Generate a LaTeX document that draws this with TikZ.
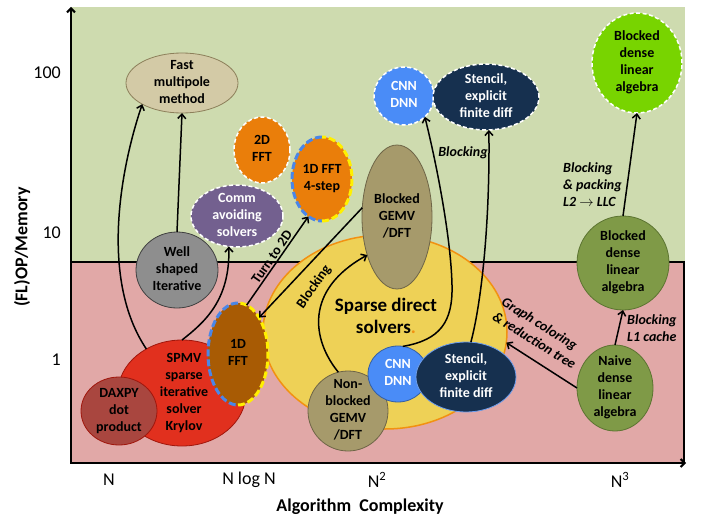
\documentclass[tikz,border=0pt]{standalone}
\usepackage{fontspec}
\setmainfont{Carlito}
\usetikzlibrary{shapes.geometric,arrows.meta}
\definecolor{bggreen}{HTML}{CEDBAF}
\definecolor{bgpink}{HTML}{E1A8A7}
\definecolor{fmfill}{HTML}{D3CAA6}
\definecolor{fmdraw}{HTML}{8C7F5A}
\definecolor{orangef}{HTML}{EA7E0A}
\definecolor{purplef}{HTML}{73608F}
\definecolor{grayf}{HTML}{8E8E8E}
\definecolor{cnnblue}{HTML}{4A8CF7}
\definecolor{navyf}{HTML}{16304F}
\definecolor{brightgreen}{HTML}{78D400}
\definecolor{tanf}{HTML}{A69A6B}
\definecolor{tandraw}{HTML}{6E6547}
\definecolor{sparsey}{HTML}{EED156}
\definecolor{sparseo}{HTML}{F29111}
\definecolor{brownf}{HTML}{A85B04}
\definecolor{redf}{HTML}{E1301E}
\definecolor{reddraw}{HTML}{A0160C}
\definecolor{daxf}{HTML}{A9463F}
\definecolor{olivef}{HTML}{7F9A47}
\definecolor{olivedraw}{HTML}{5C7431}
\definecolor{fftblue}{HTML}{4A86E8}
\definecolor{fftyellow}{HTML}{FFF000}
\newcommand\btxt[1]{\smash{\raisebox{-0.25em}{\makebox[0pt]{\begin{tabular}{@{}c@{}}#1\end{tabular}}}}}
\tikzset{
  bub/.style={ellipse, inner sep=0pt, outer sep=0pt, font=\bfseries\fontsize{14}{17}\selectfont},
  wdash/.style={draw=white, line width=1.5pt, dash pattern=on 4pt off 2.5pt},
  thinb/.style={line width=0.8pt},
  conn/.style={line width=1.5pt, -{Straight Barb[length=4.5pt,width=8pt]}},
  ilab/.style={font=\bfseries\itshape\fontsize{14}{17}\selectfont, align=left, inner sep=0pt},
  blab/.style={font=\bfseries\fontsize{14}{17}\selectfont, inner sep=1.5pt},
  tick/.style={font=\fontsize{18}{21}\selectfont, inner sep=0pt},
  axis/.style={line width=2pt, -{Straight Barb[length=4pt,width=8pt]}},
  bluehalf/.style={draw=fftblue, line width=3pt, dash pattern=on 7pt off 3pt},
  yellowhalf/.style={draw=fftyellow, line width=3pt, dash pattern=on 7pt off 3pt}
}
\begin{document}
\begin{tikzpicture}[x=1pt, y=-1pt]
\useasboundingbox (0,0) rectangle (704,519);
% backgrounds
\fill[bggreen] (71,7) rectangle (685,262);
\filldraw[fill=bgpink, draw=black, line width=1.2pt] (71,262) rectangle (684,463);
% axes
\coordinate (origin) at (71,463);
\coordinate (ytop) at (71,7);
\coordinate (xend) at (686,463);
\draw[axis] (origin) -- (ytop);
\draw[axis] (origin) -- (xend);
% axis labels
\node[tick, anchor=east] (t100) at (61,73) {100};
\node[tick, anchor=east] (t10) at (61,233) {10};
\node[tick, anchor=east] (t1) at (61,360) {1};
\node[font=\bfseries\fontsize{18}{21}\selectfont, rotate=90, inner sep=0pt] (ylbl) at (22,247) {(FL)OP/Memory};
\node[tick] (xN) at (109,480) {N};
\node[tick] (xNlogN) at (249,480) {N log N};
\node[tick] (xN2) at (377,480) {N\textsuperscript{2}};
\node[tick] (xN3) at (620,480) {N\textsuperscript{3}};
\node[font=\bfseries\fontsize{18}{21}\selectfont, inner sep=0pt] (xlbl) at (360,507) {Algorithm\ \ Complexity};
% upper (green) nodes
\node[bub, fill=fmfill, draw=fmdraw, thinb, minimum width=112pt, minimum height=60pt] (fm) at (182,83) {\btxt{Fast\\multipole\\method}};
\node[bub, fill=orangef, wdash, minimum width=56pt, minimum height=66pt] (f2d) at (262,150) {\btxt{2D\\FFT}};
\node[bub, fill=orangef, minimum width=60pt, minimum height=84pt] (f4) at (322,179) {\btxt{1D FFT\\4-step}};
\draw[bluehalf] (f4.north) arc[start angle=90, end angle=270, x radius=30pt, y radius=42pt];
\draw[yellowhalf] (f4.south) arc[start angle=270, end angle=450, x radius=30pt, y radius=42pt];
\node[bub, fill=purplef, wdash, text=white, minimum width=92pt, minimum height=62pt] (comm) at (237,216) {\btxt{Comm\\avoiding\\solvers}};
\node[bub, fill=grayf, draw=black!75, thinb, minimum width=82pt, minimum height=76pt] (ws) at (177,270) {\btxt{Well\\shaped\\Iterative}};
\node[bub, fill=cnnblue, wdash, text=white, minimum width=60pt, minimum height=58pt] (cnn1) at (404,96) {\btxt{CNN\\DNN}};
\node[bub, fill=navyf, wdash, text=white, minimum width=106pt, minimum height=66pt] (st1) at (486,97) {\btxt{Stencil,\\explicit\\finite diff}};
\node[bub, fill=brightgreen, wdash, minimum width=90pt, minimum height=100pt] (bdt) at (637,63) {\btxt{Blocked\\dense\\linear\\algebra}};
% sparse direct solvers
\node[bub, fill=sparsey, draw=sparseo, line width=1.5pt, minimum width=244pt, minimum height=194pt] (sp) at (385,332) {};
\node[bub, fill=tanf, draw=tandraw, thinb, minimum width=70pt, minimum height=144pt] (gemv) at (397,217) {\btxt{Blocked\\GEMV\\/DFT}};
\node[font=\bfseries\fontsize{19}{22}\selectfont, align=center, inner sep=0pt] (sptxt) at (386,316) {Sparse direct\\solvers\textcolor{sparseo}{.}};
\node[bub, fill=tanf, draw=tandraw, thinb, minimum width=80pt, minimum height=80pt] (ngemv) at (348,411) {\btxt{Non-\\blocked\\GEMV\\/DFT}};
\node[bub, fill=cnnblue, draw=fftblue!70!black, thinb, text=white, minimum width=60pt, minimum height=56pt] (cnn2) at (398,374) {\btxt{CNN\\DNN}};
\node[bub, fill=navyf, draw=fftblue!80!white, thinb, text=white, minimum width=100pt, minimum height=70pt] (st2) at (466,377) {\btxt{Stencil,\\explicit\\finite diff}};
% lower left nodes
\node[bub, fill=redf, draw=reddraw, thinb, minimum width=128pt, minimum height=106pt] (spmv) at (182,393) {\btxt{\hspace*{4pt}SPMV\\\hspace*{4pt}sparse\\\hspace*{4pt}iterative\\\hspace*{4pt}solver\\\hspace*{4pt}Krylov}};
\node[bub, fill=daxf, draw=reddraw, thinb, minimum width=76pt, minimum height=68pt] (daxpy) at (119,411) {\btxt{DAXPY\\dot\\product}};
\node[bub, fill=brownf, minimum width=60pt, minimum height=102pt] (fft1) at (238,354) {\btxt{1D\\FFT}};
\draw[bluehalf] (fft1.north) arc[start angle=90, end angle=270, x radius=30pt, y radius=51pt];
\draw[yellowhalf] (fft1.south) arc[start angle=270, end angle=450, x radius=30pt, y radius=51pt];
% right nodes
\node[bub, fill=olivef, draw=olivedraw, thinb, minimum width=92pt, minimum height=94pt] (bd) at (623,263) {\btxt{Blocked\\dense\\linear\\algebra}};
\node[bub, fill=olivef, draw=olivedraw, thinb, minimum width=76pt, minimum height=86pt] (nd) at (615,388) {\btxt{Naive\\dense\\linear\\algebra}};
% connectors
\draw[conn] (spmv.129) .. controls (100,280) and (120,170) .. (fm.208);
\draw[conn] (ws.north) -- (fm.south);
\draw[conn] (spmv.north) .. controls (205,322) and (230,300) .. (comm.255);
\draw[conn] (fft1.80) -- node[blab, sloped, above] (turnlbl) {Turn to 2D} (f4.250);
\draw[conn] (gemv.165) -- (fft1.60);
\draw[conn] (ngemv.104) .. controls (312,340) and (304,290) .. (gemv.232);
\node[blab, rotate=55] (blka) at (314,287) {Blocking};
\draw[conn] (cnn2.80) .. controls (440,340) and (453,322) .. (452,285) .. controls (451,240) and (438,170) .. (cnn1.315);
\draw[conn] (st2.82) .. controls (482,300) and (490,220) .. (st1.275);
\node[ilab] (blkb) at (463,153) {Blocking};
\draw[conn] (nd.west) -- (sp.355);
\node[ilab, rotate=-32] (gclbl) at (539,333) {Graph coloring\\\& reduction tree};
\draw[conn] (nd.north) -- (bd.south);
\node[ilab, anchor=west] (l1lbl) at (627,328) {Blocking\\L1 cache};
\draw[conn] (bd.north) -- (bdt.south);
\node[ilab, anchor=west] (l2lbl) at (563,185) {Blocking\\\& packing\\L2 $\rightarrow$ LLC};
\end{tikzpicture}
\end{document}
